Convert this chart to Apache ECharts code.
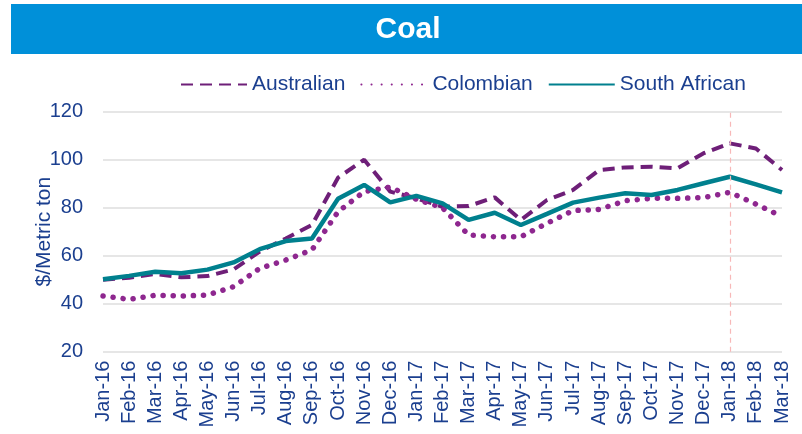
<!DOCTYPE html>
<html>
<head>
<meta charset="utf-8">
<script src="https://cdn.jsdelivr.net/npm/echarts@6/dist/echarts.min.js"></script>
<style>
    html, body { margin: 0; padding: 0; background: #fff; }
    #line-box { width: 802px; height: 434px; }
</style>
</head>
<body>
<div id="line-box"></div>
<script>
    var months = ['Jan-16', 'Feb-16', 'Mar-16', 'Apr-16', 'May-16', 'Jun-16', 'Jul-16', 'Aug-16', 'Sep-16',
        'Oct-16', 'Nov-16', 'Dec-16', 'Jan-17', 'Feb-17', 'Mar-17', 'Apr-17', 'May-17', 'Jun-17', 'Jul-17',
        'Aug-17', 'Sep-17', 'Oct-17', 'Nov-17', 'Dec-17', 'Jan-18', 'Feb-18', 'Mar-18'];

    var australian = [50, 50.8, 52.4, 51, 51.5, 54.3, 61.7, 67.2, 72.8, 92.5, 100, 86.7, 83.9, 80.4, 80.7,
        84.3, 74.9, 83.2, 87.4, 95.7, 96.8, 97.1, 96.4, 102.7, 106.8, 104.7, 95.7];
    var colombian = [43.2, 41.8, 43.5, 43.2, 43.6, 47.1, 54.7, 58.2, 62.4, 78.3, 86.7, 88.6, 83.5, 80, 68.6,
        67.9, 67.9, 73.5, 78.8, 79.3, 82.9, 83.9, 83.9, 84.2, 86.4, 81.5, 76.3];
    var southAfrican = [50.2, 51.6, 53.3, 52.7, 54.2, 57.2, 62.7, 66.1, 67.2, 83.7, 89.5, 82.2, 84.9, 81.8, 74.9,
        77.9, 72.8, 77.4, 82.1, 84.2, 86, 85.3, 87.4, 90.2, 92.9, 89.7, 86.4];

    var markMonth = 'Jan-18';
    var yTicks = { min: 20, max: 120, interval: 20 };

    var textColor = '#1b3f8f';
    var font = 'Liberation Sans, Arial, sans-serif';

    var myChart = echarts.init(document.getElementById('line-box'));

    var option = {
        animation: false,
        graphic: [
            {
                type: 'rect',
                shape: { x: 11, y: 4, width: 791, height: 50 },
                style: { fill: '#0090d9' },
                z: 0
            },
            {
                type: 'text',
                x: 408,
                y: 30,
                style: {
                    text: 'Coal',
                    fill: '#fff',
                    font: 'bold 30px ' + font,
                    align: 'center',
                    verticalAlign: 'middle'
                },
                z: 1
            }
        ],
        legend: {
            top: 69,
            left: 175,
            itemWidth: 66,
            itemHeight: 12,
            itemGap: 15,
            itemStyle: { opacity: 0 },
            textStyle: { color: textColor, fontSize: 21, fontFamily: font },
            data: ['Australian', 'Colombian', 'South African']
        },
        grid: {
            left: 103,
            right: 20,
            top: 111.7,
            bottom: 82.3
        },
        xAxis: {
            type: 'category',
            boundaryGap: false,
            data: months,
            axisLine: { show: false },
            axisTick: { show: false },
            axisLabel: {
                rotate: 90,
                interval: 0,
                margin: 9,
                color: textColor,
                fontSize: 20,
                fontFamily: font
            }
        },
        yAxis: {
            type: 'value',
            min: yTicks.min,
            max: yTicks.max,
            interval: yTicks.interval,
            name: '$/Metric ton',
            nameLocation: 'middle',
            nameRotate: 90,
            nameGap: 48,
            nameMoveOverlap: false,
            nameTextStyle: { color: textColor, fontSize: 21, fontFamily: font },
            axisLabel: { color: textColor, fontSize: 20, fontFamily: font, margin: 20 },
            splitLine: { lineStyle: { color: '#dedede', width: 1.5 } }
        },
        series: [
            {
                name: 'Australian',
                type: 'line',
                symbol: 'none',
                data: australian,
                lineStyle: { color: '#6e1f78', width: 4, type: [12, 7] },
                itemStyle: { color: '#6e1f78' },
                markLine: {
                    silent: true,
                    symbol: 'none',
                    label: { show: false },
                    lineStyle: { color: '#f7b8b8', type: [5, 4], width: 1.2 },
                    data: [{ xAxis: markMonth }]
                }
            },
            {
                name: 'Colombian',
                type: 'line',
                symbol: 'none',
                data: colombian,
                lineStyle: { color: '#8e278f', width: 5.5, type: [0.1, 10], cap: 'round' },
                itemStyle: { color: '#8e278f' }
            },
            {
                name: 'South African',
                type: 'line',
                symbol: 'none',
                data: southAfrican,
                lineStyle: { color: '#00808e', width: 4.5 },
                itemStyle: { color: '#00808e' },
                z: 3
            }
        ]
    };

    myChart.setOption(option, true);
</script>
</body>
</html>
